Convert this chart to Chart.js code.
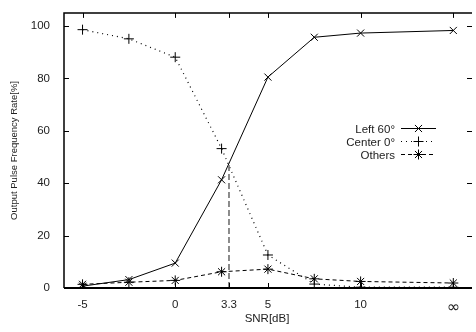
<!DOCTYPE html>
<html><head><meta charset="utf-8">
<script src="https://cdn.jsdelivr.net/npm/chart.js@4/dist/chart.umd.min.js"></script>
<style>html,body{margin:0;padding:0;background:#fff;overflow:hidden}#wrap{width:476px;height:332px}</style>
</head><body><div id="wrap"><canvas id="c" width="476" height="332"></canvas></div>
<script>
const snrPositions = [-5, -2.5, 0, 2.5, 5, 7.5, 10, 15];
const left60 = [0.7, 3.2, 9.5, 41.3, 80.5, 95.7, 97.3, 98.3];
const center0 = [98.6, 95.1, 88.1, 53.2, 12.6, 1.5, 0.3, 0.3];
const others = [1.4, 2.2, 2.9, 6.2, 7.2, 3.5, 2.5, 1.9];
const xTickValues = [-5, 0, 2.9, 5, 10, 15];
const xTickLabels = ['-5', '0', '3.3', '5', '10', '\u221E'];
const yTickValues = [0, 20, 40, 60, 80, 100];
const seriesNames = ['Left 60\u00B0', 'Center 0\u00B0', 'Others'];
const crossover = {x: 2.9, y: 47.3};

const FONT = '"Liberation Sans", Arial, sans-serif';
const pts = arr => arr.map((v, i) => ({x: snrPositions[i], y: v}));

const frame = {
  id: 'frame',
  afterDatasetsDraw(chart) {
    const {ctx, chartArea: a, scales: {x, y}} = chart;
    ctx.save();
    // crossover dashed line
    ctx.strokeStyle = '#666';
    ctx.lineWidth = 1.5;
    ctx.setLineDash([6, 3]);
    ctx.beginPath();
    ctx.moveTo(x.getPixelForValue(crossover.x), y.getPixelForValue(0));
    ctx.lineTo(x.getPixelForValue(crossover.x), y.getPixelForValue(crossover.y));
    ctx.stroke();
    ctx.setLineDash([]);
    // box (right border lies just outside the picture)
    ctx.strokeStyle = '#000';
    ctx.lineWidth = 1.5;
    ctx.beginPath();
    ctx.moveTo(a.right + 2, a.top); ctx.lineTo(a.left, a.top); ctx.lineTo(a.left, a.bottom);
    ctx.stroke();
    ctx.lineWidth = 2;
    ctx.beginPath(); ctx.moveTo(a.left, a.bottom); ctx.lineTo(a.right + 2, a.bottom); ctx.stroke();
    // ticks
    ctx.lineWidth = 1;
    ctx.beginPath();
    const tl = 5;
    yTickValues.forEach(v => {
      const py = Math.round(y.getPixelForValue(v)) + 0.5;
      ctx.moveTo(a.left, py); ctx.lineTo(a.left + tl, py);
      ctx.moveTo(a.right + 2, py); ctx.lineTo(a.right + 2 - tl, py);
    });
    xTickValues.forEach(v => {
      const px = Math.round(x.getPixelForValue(v)) + 0.5;
      ctx.moveTo(px, a.bottom); ctx.lineTo(px, a.bottom - tl);
      ctx.moveTo(px, a.top); ctx.lineTo(px, a.top + tl);
    });
    ctx.stroke();
    // legend
    const rows = [128, 141, 154];
    const textRight = 395, l0 = 401, l1 = 436;
    ctx.font = '11.5px ' + FONT;
    ctx.fillStyle = '#222';
    ctx.textAlign = 'right';
    ctx.textBaseline = 'middle';
    chart.data.datasets.forEach((ds, i) => {
      const ry = rows[i];
      ctx.fillText(seriesNames[i], textRight, ry + 2);
      ctx.strokeStyle = '#000';
      ctx.lineWidth = 1;
      ctx.setLineDash(ds.borderDash || []);
      ctx.beginPath(); ctx.moveTo(l0, ry + 0.5); ctx.lineTo(l1, ry + 0.5); ctx.stroke();
      ctx.setLineDash([]);
      Chart.helpers.drawPoint(ctx, {pointStyle: ds.pointStyle, radius: 5, borderWidth: 1}, (l0 + l1) / 2, ry + 0.5);
    });
    ctx.restore();
  }
};

new Chart(document.getElementById('c'), {
  type: 'line',
  data: {
    datasets: [
      {label: seriesNames[0], data: pts(left60), borderColor: '#000', borderWidth: 1, pointStyle: 'crossRot', pointRadius: 5, pointBorderColor: '#000', pointBorderWidth: 1, borderDash: []},
      {label: seriesNames[1], data: pts(center0), borderColor: '#000', borderWidth: 1.2, pointStyle: 'cross', pointRadius: 5, pointBorderColor: '#000', pointBorderWidth: 1, borderDash: [1, 4]},
      {label: seriesNames[2], data: pts(others), borderColor: '#000', borderWidth: 1, pointStyle: 'star', pointRadius: 5, pointBorderColor: '#000', pointBorderWidth: 1, borderDash: [4, 3]}
    ]
  },
  options: {
    responsive: false,
    animation: false,
    events: [],
    layout: {padding: {top: 8, right: 0, left: 0, bottom: 0}},
    plugins: {legend: {display: false}, tooltip: {enabled: false}},
    scales: {
      x: {
        type: 'linear', min: -6, max: 15.9,
        grid: {display: false}, border: {display: false},
        afterBuildTicks(s) { s.ticks = xTickValues.map(v => ({value: v})); },
        afterFit(s) { s.height = 44; },
        ticks: {
          padding: 2, color: '#222',
          font: c => (c.tick && c.tick.value === 15) ? {family: '"DejaVu Sans", sans-serif', size: 16} : {family: FONT, size: 11.5},
          callback: (v) => { const i = xTickValues.indexOf(v); return i >= 0 ? xTickLabels[i] : ''; },
          autoSkip: false, maxRotation: 0
        },
        title: {display: true, text: 'SNR[dB]', color: '#222', font: {family: FONT, size: 11.5}, padding: {top: 0, bottom: 6}}
      },
      y: {
        min: 0, max: 105,
        grid: {display: false}, border: {display: false},
        afterBuildTicks(s) { s.ticks = yTickValues.map(v => ({value: v})); },
        afterFit(s) { s.width = 64; },
        ticks: {padding: 6, color: '#222', font: {family: FONT, size: 11.5}},
        title: {display: true, text: 'Output Pulse Frequency Rate[%]', color: '#222', font: {family: FONT, size: 9.5}, padding: {top: 9, bottom: 0}}
      }
    }
  },
  plugins: [frame]
});
</script></body></html>
